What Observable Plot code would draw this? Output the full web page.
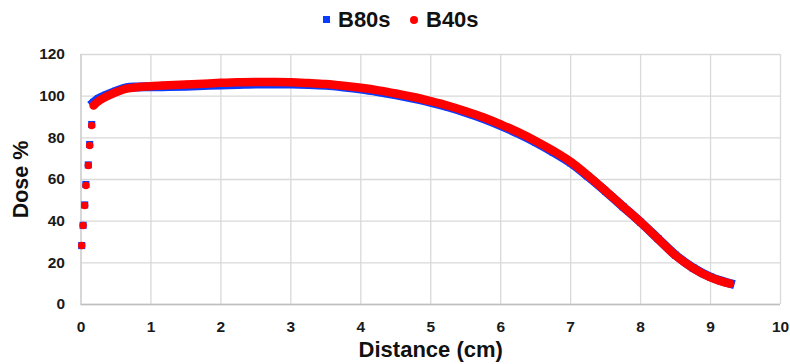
<!DOCTYPE html>
<html>
<head>
<meta charset="utf-8">
<script src="https://cdn.jsdelivr.net/npm/d3@7"></script>
<script src="https://cdn.jsdelivr.net/npm/@observablehq/plot@0.6"></script>
<style>
  body { margin: 0; background: #fff; font-family: "Liberation Sans", Arial, sans-serif; }
  #legend { height: 40px; width: 790px; position: relative; font-weight: bold; font-size: 22px; color: #111; }
  .item { position: absolute; top: 7px; line-height: 25px; display: flex; align-items: center; }
  .sw { display: inline-block; }
</style>
</head>
<body>
<div id="legend"></div>
<div id="chart"></div>
<script>
// Data
const seriesNames = ["B80s", "B40s"];
const distance = [0.01, 0.03, 0.053, 0.07, 0.104, 0.124, 0.153,
  0.18, 0.25, 0.35, 0.5, 0.65, 0.8, 1.0, 1.25, 1.5, 1.75, 2.0, 2.25, 2.5, 2.75, 3.0, 3.25, 3.5, 3.75,
  4.0, 4.25, 4.5, 4.75, 5.0, 5.25, 5.5, 5.75, 6.0, 6.25, 6.5, 6.75, 7.0, 7.25, 7.5, 7.75, 8.0, 8.25,
  8.5, 8.75, 9.0, 9.15, 9.28];
const b80s = [28.3, 38.0, 47.8, 57.6, 67.0, 76.8, 86.4,
  97.0, 98.8, 100.4, 102.4, 104.1, 104.4, 104.5, 104.6, 104.8, 105.1, 105.4, 105.6, 105.8, 105.8, 105.8, 105.6, 105.2, 104.4,
  103.4, 102.1, 100.6, 98.9, 97.0, 94.8, 92.2, 89.3, 85.9, 82.1, 77.9, 73.2, 68.0, 61.4, 54.3, 46.9, 39.5, 31.6,
  23.7, 17.6, 13.2, 11.4, 10.1];
const b40s = [28.3, 37.9, 47.5, 57.1, 66.7, 76.3, 85.9,
  95.5, 97.6, 99.6, 101.9, 103.6, 104.3, 104.8, 105.2, 105.6, 106.0, 106.4, 106.7, 106.8, 106.8, 106.7, 106.3, 105.8, 105.0,
  104.0, 102.8, 101.3, 99.6, 97.6, 95.4, 92.8, 89.9, 86.5, 82.7, 78.5, 73.8, 68.5, 61.8, 54.5, 47.0, 39.5, 31.5,
  23.5, 17.5, 13.0, 11.2, 10.0];
const xTicks = [0, 1, 2, 3, 4, 5, 6, 7, 8, 9, 10];
const yTicks = [0, 20, 40, 60, 80, 100, 120];
const colors = ["#0a3cff", "#ff0000"];
const denseStart = 7; // points from here on are drawn as a continuous marker band

const rows80 = distance.map((d, i) => ({x: d, y: b80s[i], i}));
const rows40 = distance.map((d, i) => ({x: d, y: b40s[i], i}));
const dense80 = rows80.filter(r => r.i >= denseStart);
const dense40 = rows40.filter(r => r.i >= denseStart);

const font = "'Liberation Sans', Arial, sans-serif";

const chart = Plot.plot({
  width: 790,
  height: 324,
  marginTop: 14,
  marginBottom: 60,
  marginLeft: 80.5,
  marginRight: 10,
  style: {fontFamily: font, fontWeight: "bold", fontSize: "15.5px", color: "#1a1a1a", background: "#fff"},
  x: {domain: [0, 10]},
  y: {domain: [0, 120]},
  marks: [
    Plot.gridX(xTicks, {stroke: "#d9d9d9", strokeOpacity: 1, strokeWidth: 1.3}),
    Plot.gridY(yTicks, {stroke: "#d9d9d9", strokeOpacity: 1, strokeWidth: 1.3}),
    Plot.ruleY([0], {stroke: "#bfbfbf", strokeWidth: 1.5}),
    Plot.ruleX([0], {stroke: "#d0d0d0", strokeWidth: 1.3}),
    Plot.axisX(xTicks, {tickSize: 0, tickPadding: 16, label: null, fontSize: 15.5}),
    Plot.axisY(yTicks, {tickSize: 0, tickPadding: 16, label: null, fontSize: 15.5}),
    // B80s (blue squares)
    Plot.line(dense80, {x: "x", y: "y", stroke: colors[0], strokeWidth: 9, curve: "catmull-rom", strokeLinecap: "square"}),
    Plot.dot(rows80, {x: "x", y: "y", symbol: "square", r: 4, fill: colors[0]}),
    // B40s (red circles)
    Plot.line(dense40, {x: "x", y: "y", stroke: colors[1], strokeWidth: 8.5, curve: "catmull-rom", strokeLinecap: "round"}),
    Plot.dot(rows40, {x: "x", y: "y", symbol: "circle", r: 3.7, fill: colors[1]}),
    // axis titles
    Plot.text(["Distance (cm)"], {frameAnchor: "bottom", dy: 45, text: d => d, fontSize: 22, fontWeight: "bold", fill: "#111", lineAnchor: "middle"}),
    Plot.text(["Dose %"], {frameAnchor: "left", dx: -60, rotate: -90, text: d => d, fontSize: 21.5, fontWeight: "bold", fill: "#111", textAnchor: "middle"})
  ]
});
document.getElementById("chart").appendChild(chart);

// Legend above the SVG
const legend = document.getElementById("legend");
const swatchLeft = [323, 410];
const textLeft = [338, 426];
seriesNames.forEach((name, k) => {
  const sw = document.createElement("span");
  sw.className = "sw";
  sw.style.position = "absolute";
  if (k === 0) { sw.style.width = "7px"; sw.style.height = "7px"; sw.style.background = colors[0]; sw.style.left = swatchLeft[k] + "px"; sw.style.top = "16px"; }
  else { sw.style.width = "8px"; sw.style.height = "8px"; sw.style.borderRadius = "50%"; sw.style.background = colors[1]; sw.style.left = swatchLeft[k] + "px"; sw.style.top = "16px"; }
  legend.appendChild(sw);
  const t = document.createElement("div");
  t.className = "item";
  t.style.left = textLeft[k] + "px";
  t.textContent = name;
  legend.appendChild(t);
});
</script>
</body>
</html>
